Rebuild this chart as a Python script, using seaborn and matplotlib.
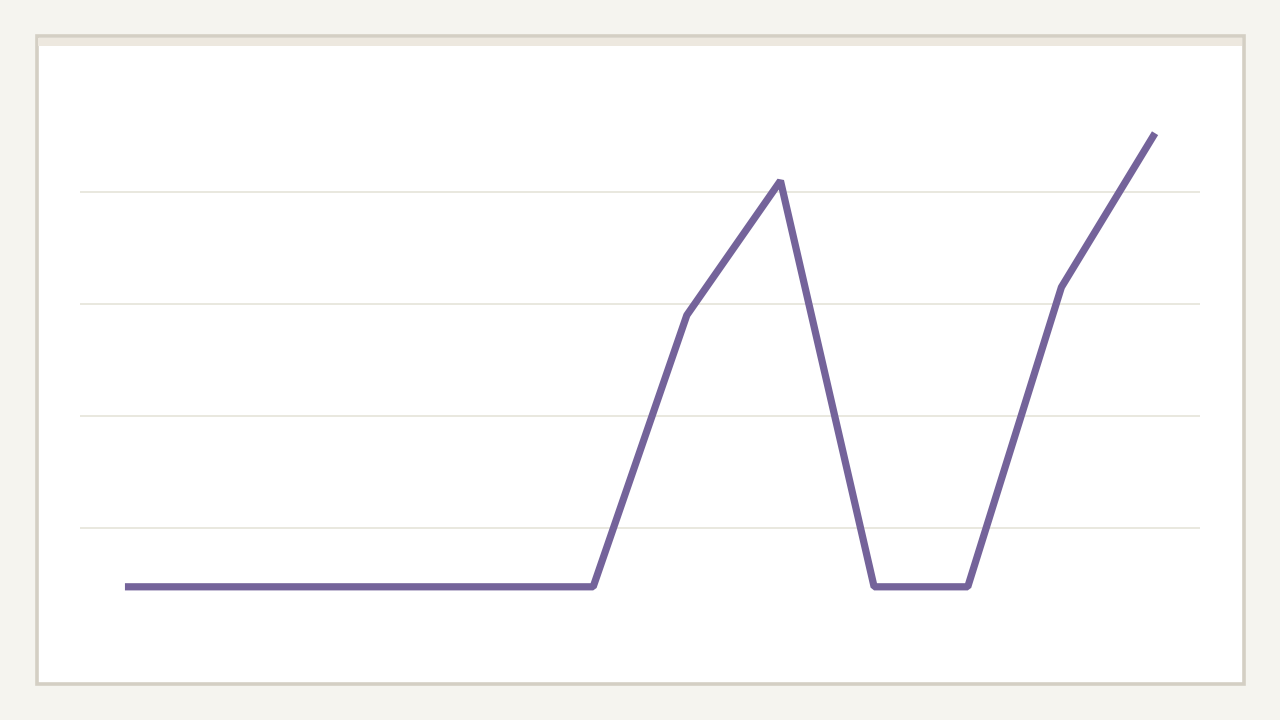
import numpy as np
import pandas as pd
import seaborn as sns
import matplotlib
matplotlib.use("Agg")
import matplotlib.pyplot as plt
from matplotlib.patches import Rectangle

# values (no labels shown there)
points = list(range(12))
values = [9.5, 9.5, 9.5, 9.5, 9.5, 9.5, 58, 82, 9.5, 9.5, 63, 90.5]
grid_ticks = [20, 40, 60, 80]

PAGE_BG = "#f5f4ef"
CARD_EDGE = "#d4cfc4"
STRIP = "#ede8df"
GRID = "#e3e1d6"
LINE = "#74639a"

sns.set_theme(style="white")

fig = plt.figure(figsize=(12.8, 7.2), dpi=100)
fig.patch.set_facecolor(PAGE_BG)

# card behind the chart
W, H = 1280, 720
fig.patches.append(Rectangle((36.5 / W, 36.5 / H), (1244 - 36.5) / W, (684 - 36.5) / H,
                             transform=fig.transFigure, facecolor="white",
                             edgecolor=CARD_EDGE, linewidth=2.6, zorder=-2))
fig.patches.append(Rectangle((38 / W, (H - 46) / H), (1242 - 38) / W, 8 / H,
                             transform=fig.transFigure, facecolor=STRIP,
                             edgecolor="none", zorder=-1))

ax = fig.add_axes([80 / W, 80 / H, 1120 / W, 560 / H])
ax.set_facecolor("none")

df = pd.DataFrame({"x": points, "y": values})
sns.lineplot(data=df, x="x", y="y", ax=ax, color=LINE, linewidth=5.2,
             solid_capstyle="butt", solid_joinstyle="bevel", zorder=3)

ax.set_xlim(-0.48, 11.48)
ax.set_ylim(0, 100)
ax.set_yticks(grid_ticks)
ax.yaxis.grid(True, color=GRID, linewidth=1.1)
ax.xaxis.grid(False)
ax.tick_params(left=False, bottom=False, labelleft=False, labelbottom=False)
ax.set_xlabel("")
ax.set_ylabel("")
for s in ax.spines.values():
    s.set_visible(False)

fig.savefig("out.png", dpi=100, facecolor=fig.get_facecolor())
